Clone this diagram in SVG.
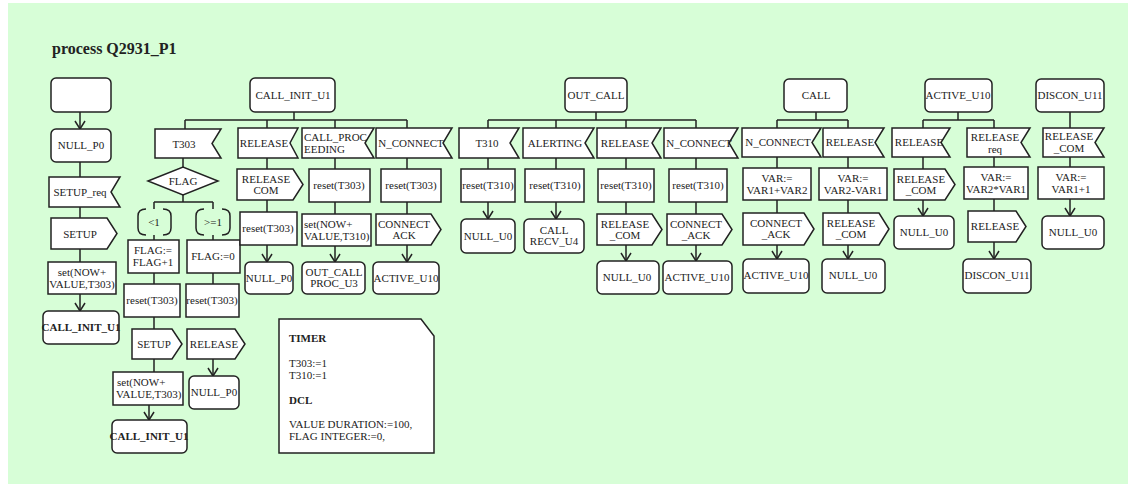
<svg xmlns="http://www.w3.org/2000/svg" width="1134" height="492" viewBox="0 0 1134 492" font-family="'Liberation Serif', 'DejaVu Serif', serif">
<defs>
<style>
.bg{fill:#d7fed7}
.b{fill:#fff;stroke:#222;stroke-width:1.5}
.c{fill:none;stroke:#222;stroke-width:1.5}
text{font-family:'Liberation Serif', 'DejaVu Serif', serif;font-size:11px;fill:#222;text-anchor:middle}
.l{text-anchor:start}
.bd{font-weight:bold}
.t{font-weight:bold;font-size:16px;text-anchor:start}
</style>
<marker id="ar" viewBox="0 0 10 12" refX="9" refY="6" markerWidth="10" markerHeight="12" markerUnits="userSpaceOnUse" orient="auto">
<path d="M1,1 L9,6 L1,11" fill="none" stroke="#222" stroke-width="1.5"/>
</marker>
</defs>
<rect class="bg" x="8" y="3" width="1120" height="481"/>
<text class="t" x="52" y="54">process Q2931_P1</text>

<g id="connectors">
<path class="c" d="M80,112 V129" marker-end="url(#ar)"/>
<path class="c" d="M80,162 V177 M80,207 V218 M80,249 V262"/>
<path class="c" d="M80,294 V311" marker-end="url(#ar)"/>
<path class="c" d="M294,112 V120 M185,120 H407 M185,120 V129 M267,120 V128 M335,120 V128 M407,120 V128"/>
<path class="c" d="M183,158 V167 M183,195 V202 M154,202 H213 M154,202 V209 M213,202 V209"/>
<path class="c" d="M154,235 V240 M213,235 V240 M154,273 V284 M213,273 V284 M154,317 V329 M154,359 V372"/>
<path class="c" d="M149,405 V420" marker-end="url(#ar)"/>
<path class="c" d="M213,359 V376" marker-end="url(#ar)"/>
<path class="c" d="M267,158 V169 M267,200 V212"/>
<path class="c" d="M267,245 V262" marker-end="url(#ar)"/>
<path class="c" d="M335,158 V169 M335,202 V214"/>
<path class="c" d="M335,246 V262" marker-end="url(#ar)"/>
<path class="c" d="M407,158 V169 M407,202 V214"/>
<path class="c" d="M407,245 V262" marker-end="url(#ar)"/>
<path class="c" d="M596,112 V120 M488,120 H696 M488,120 V128 M556,120 V128 M626,120 V128 M696,120 V128"/>
<path class="c" d="M488,158 V169 M556,158 V169 M626,158 V169 M696,158 V169 M626,202 V214 M696,202 V214"/>
<path class="c" d="M488,202 V219" marker-end="url(#ar)"/>
<path class="c" d="M556,202 V219" marker-end="url(#ar)"/>
<path class="c" d="M626,245 V261" marker-end="url(#ar)"/>
<path class="c" d="M696,245 V261" marker-end="url(#ar)"/>
<path class="c" d="M816,112 V120 M777,120 H848 M777,120 V128 M848,120 V128 M777,157 V168 M848,157 V168 M777,200 V213 M848,200 V213"/>
<path class="c" d="M777,245 V259" marker-end="url(#ar)"/>
<path class="c" d="M848,245 V259" marker-end="url(#ar)"/>
<path class="c" d="M958,112 V120 M923,120 H994 M923,120 V128 M994,120 V128 M923,157 V169 M994,157 V167 M994,199 V211"/>
<path class="c" d="M923,200 V216" marker-end="url(#ar)"/>
<path class="c" d="M994,242 V259" marker-end="url(#ar)"/>
<path class="c" d="M1070,112 V128 M1070,157 V167"/>
<path class="c" d="M1070,199 V216" marker-end="url(#ar)"/>
</g>

<g id="start"><rect class="b" x="51" y="78" width="60" height="34" rx="5"/></g>
<g id="null_p0_a"><rect class="b" x="51" y="129" width="60" height="33" rx="5"/><text x="81" y="149">NULL_P0</text></g>
<g id="setup_req_a"><polygon class="b" points="49,177 120,177 111,192 120,207 49,207"/><text x="80" y="196">SETUP_req</text></g>
<g id="setup_a"><polygon class="b" points="51,218 107,218 117,233.5 107,249 51,249"/><text x="80" y="238">SETUP</text></g>
<g id="set_a"><rect class="b" x="48" y="262" width="68" height="32"/><text x="82" y="276">set(NOW+</text><text x="82" y="288">VALUE,T303)</text></g>
<g id="call_init_a"><rect class="b" x="43" y="311" width="76" height="33" rx="5"/><text class="bd" x="81" y="331">CALL_INIT_U1</text></g>

<g id="call_init_u1"><rect class="b" x="250" y="78" width="85" height="34" rx="5"/><text x="293" y="99">CALL_INIT_U1</text></g>
<g id="t303"><polygon class="b" points="155,129 221,129 212,143.5 221,158 155,158"/><text x="184" y="148">T303</text></g>
<g id="flag"><polygon class="b" points="148,181 183,167 218,181 183,195"/><text x="183" y="185">FLAG</text></g>
<g id="ans_lt1"><path class="c" d="M146,209 Q138,209 138,216 V228 Q138,235 146,235 M163,209 Q171,209 171,216 V228 Q171,235 163,235"/><text x="154" y="226">&lt;1</text></g>
<g id="ans_ge1"><path class="c" d="M204,209 Q196,209 196,216 V228 Q196,235 204,235 M222,209 Q230,209 230,216 V228 Q230,235 222,235"/><text x="213" y="226">&gt;=1</text></g>
<g id="flag_inc"><rect class="b" x="128" y="240" width="51" height="33"/><text x="153" y="254">FLAG:=</text><text x="153" y="266">FLAG+1</text></g>
<g id="flag_zero"><rect class="b" x="187" y="240" width="53" height="33"/><text x="213" y="260">FLAG:=0</text></g>
<g id="reset_t303_a"><rect class="b" x="124" y="284" width="56" height="33"/><text x="152" y="304">reset(T303)</text></g>
<g id="reset_t303_b"><rect class="b" x="186" y="284" width="53" height="33"/><text x="212" y="304">reset(T303)</text></g>
<g id="setup_b"><polygon class="b" points="132,329 172,329 182,344 172,359 132,359"/><text x="154" y="348">SETUP</text></g>
<g id="release_b"><polygon class="b" points="187,329 235,329 245,344 235,359 187,359"/><text x="214" y="348">RELEASE</text></g>
<g id="set_b"><rect class="b" x="113" y="372" width="70" height="33"/><text class="l" x="117" y="386">set(NOW+</text><text class="l" x="116" y="398">VALUE,T303)</text></g>
<g id="call_init_b"><rect class="b" x="112" y="420" width="75" height="33" rx="5"/><text class="bd" x="149" y="440">CALL_INIT_U1</text></g>
<g id="null_p0_b"><rect class="b" x="189" y="376" width="50" height="33" rx="5"/><text x="214" y="396">NULL_P0</text></g>

<g id="release_c"><polygon class="b" points="238,128 298,128 290,143 298,158 238,158"/><text x="264" y="147">RELEASE</text></g>
<g id="release_com_c"><polygon class="b" points="237,169 293,169 303,184.5 293,200 237,200"/><text x="266" y="183">RELEASE</text><text x="266" y="194">COM</text></g>
<g id="reset_t303_c"><rect class="b" x="240" y="212" width="57" height="33"/><text x="268" y="232">reset(T303)</text></g>
<g id="null_p0_c"><rect class="b" x="245" y="262" width="48" height="32" rx="5"/><text x="269" y="282">NULL_P0</text></g>

<g id="call_proc"><polygon class="b" points="302,128 374,128 365,143 374,158 302,158"/><text class="l" x="304" y="141">CALL_PROC</text><text class="l" x="304" y="153">EEDING</text></g>
<g id="reset_t303_d"><rect class="b" x="309" y="169" width="61" height="33"/><text x="339" y="189">reset(T303)</text></g>
<g id="set_t310"><rect class="b" x="302" y="214" width="69" height="32"/><text class="l" x="304" y="228">set(NOW+</text><text class="l" x="304" y="240">VALUE,T310)</text></g>
<g id="out_call_proc"><rect class="b" x="302" y="262" width="63" height="32" rx="5"/><text x="334" y="276">OUT_CALL</text><text x="334" y="287">PROC_U3</text></g>

<g id="n_connect_d"><polygon class="b" points="376,128 452,128 443,143 452,158 376,158"/><text x="411" y="147">N_CONNECT</text></g>
<g id="reset_t303_e"><rect class="b" x="381" y="169" width="60" height="33"/><text x="411" y="189">reset(T303)</text></g>
<g id="connect_ack_d"><polygon class="b" points="376,214 431,214 441,229.5 431,245 376,245"/><text x="404" y="228">CONNECT</text><text x="404" y="239">ACK</text></g>
<g id="active_u10_d"><rect class="b" x="373" y="262" width="66" height="32" rx="5"/><text x="406" y="282">ACTIVE_U10</text></g>

<g id="out_call"><rect class="b" x="565" y="78" width="62" height="34" rx="5"/><text x="596" y="99">OUT_CALL</text></g>
<g id="t310"><polygon class="b" points="459,128 519,128 510,143 519,158 459,158"/><text x="487" y="147">T310</text></g>
<g id="reset_t310_e"><rect class="b" x="461" y="169" width="54" height="33"/><text x="488" y="189">reset(T310)</text></g>
<g id="null_u0_e"><rect class="b" x="461" y="219" width="54" height="34" rx="5"/><text x="488" y="240">NULL_U0</text></g>
<g id="alerting"><polygon class="b" points="523,128 594,128 585,143 594,158 523,158"/><text x="555" y="147">ALERTING</text></g>
<g id="reset_t310_f"><rect class="b" x="525" y="169" width="59" height="33"/><text x="555" y="189">reset(T310)</text></g>
<g id="call_recv"><rect class="b" x="524" y="219" width="60" height="34" rx="5"/><text x="554" y="234">CALL</text><text x="554" y="245">RECV_U4</text></g>
<g id="release_g"><polygon class="b" points="597,128 661,128 652,143 661,158 597,158"/><text x="625" y="147">RELEASE</text></g>
<g id="reset_t310_g"><rect class="b" x="598" y="169" width="56" height="33"/><text x="626" y="189">reset(T310)</text></g>
<g id="release_com_g"><polygon class="b" points="597,214 652,214 662,229.5 652,245 597,245"/><text x="625" y="228">RELEASE</text><text x="625" y="239">_COM</text></g>
<g id="null_u0_g"><rect class="b" x="597" y="261" width="62" height="33" rx="5"/><text x="627" y="281">NULL_U0</text></g>
<g id="n_connect_h"><polygon class="b" points="664,128 738,128 729,143 738,158 664,158"/><text x="699" y="147">N_CONNECT</text></g>
<g id="reset_t310_h"><rect class="b" x="669" y="169" width="58" height="33"/><text x="698" y="189">reset(T310)</text></g>
<g id="connect_ack_h"><polygon class="b" points="667,214 722,214 732,229.5 722,245 667,245"/><text x="696" y="228">CONNECT</text><text x="696" y="239">_ACK</text></g>
<g id="active_u10_h"><rect class="b" x="663" y="261" width="69" height="33" rx="5"/><text x="697" y="281">ACTIVE_U10</text></g>

<g id="call"><rect class="b" x="784" y="79" width="63" height="33" rx="5"/><text x="816" y="99">CALL</text></g>
<g id="n_connect_i"><polygon class="b" points="742,128 821,128 812,142.5 821,157 742,157"/><text x="778" y="146">N_CONNECT</text></g>
<g id="var_i"><rect class="b" x="743" y="168" width="68" height="32"/><text x="777" y="182">VAR:=</text><text x="777" y="194">VAR1+VAR2</text></g>
<g id="connect_ack_i"><polygon class="b" points="743,213 804,213 814,229 804,245 743,245"/><text x="776" y="227">CONNECT</text><text x="776" y="238">_ACK</text></g>
<g id="active_u10_i"><rect class="b" x="743" y="259" width="66" height="34" rx="5"/><text x="776" y="279">ACTIVE_U10</text></g>
<g id="release_j"><polygon class="b" points="823,128 884,128 875,142.5 884,157 823,157"/><text x="850" y="146">RELEASE</text></g>
<g id="var_j"><rect class="b" x="819" y="168" width="68" height="32"/><text x="853" y="182">VAR:=</text><text x="853" y="194">VAR2-VAR1</text></g>
<g id="release_com_j"><polygon class="b" points="823,213 879,213 889,229 879,245 823,245"/><text x="851" y="227">RELEASE</text><text x="851" y="238">_COM</text></g>
<g id="null_u0_j"><rect class="b" x="822" y="259" width="63" height="34" rx="5"/><text x="853" y="279">NULL_U0</text></g>

<g id="active_u10"><rect class="b" x="925" y="79" width="67" height="33" rx="5"/><text x="958" y="99">ACTIVE_U10</text></g>
<g id="release_k"><polygon class="b" points="892,128 950,128 941,142.5 950,157 892,157"/><text x="919" y="146">RELEASE</text></g>
<g id="release_com_k"><polygon class="b" points="894,169 945,169 955,184.5 945,200 894,200"/><text x="921" y="183">RELEASE</text><text x="921" y="194">_COM</text></g>
<g id="null_u0_k"><rect class="b" x="894" y="216" width="60" height="33" rx="5"/><text x="924" y="236">NULL_U0</text></g>
<g id="release_req"><polygon class="b" points="967,128 1030,128 1021,142.5 1030,157 967,157"/><text x="995" y="141">RELEASE</text><text x="995" y="153">req</text></g>
<g id="var_l"><rect class="b" x="964" y="167" width="64" height="32"/><text x="996" y="181">VAR:=</text><text x="996" y="193">VAR2*VAR1</text></g>
<g id="release_l"><polygon class="b" points="968,211 1016,211 1026,226.5 1016,242 968,242"/><text x="995" y="230">RELEASE</text></g>
<g id="discon_u11_l"><rect class="b" x="963" y="259" width="68" height="34" rx="5"/><text x="997" y="279">DISCON_U11</text></g>

<g id="discon_u11"><rect class="b" x="1036" y="79" width="68" height="33" rx="5"/><text x="1070" y="99">DISCON_U11</text></g>
<g id="release_com_m"><polygon class="b" points="1043,128 1104,128 1095,142.5 1104,157 1043,157"/><text x="1069" y="140">RELEASE</text><text x="1069" y="152">_COM</text></g>
<g id="var_m"><rect class="b" x="1038" y="167" width="66" height="32"/><text x="1071" y="181">VAR:=</text><text x="1071" y="193">VAR1+1</text></g>
<g id="null_u0_m"><rect class="b" x="1042" y="216" width="62" height="33" rx="5"/><text x="1073" y="236">NULL_U0</text></g>

<g id="timer_note"><path class="b" d="M279,319 H421 L434,336 V453 H279 Z"/>
<text class="l bd" x="289" y="342">TIMER</text>
<text class="l" x="289" y="367">T303:=1</text>
<text class="l" x="289" y="379">T310:=1</text>
<text class="l bd" x="289" y="404">DCL</text>
<text class="l" x="289" y="428">VALUE DURATION:=100,</text>
<text class="l" x="289" y="440">FLAG INTEGER:=0,</text>
</g>
</svg>
